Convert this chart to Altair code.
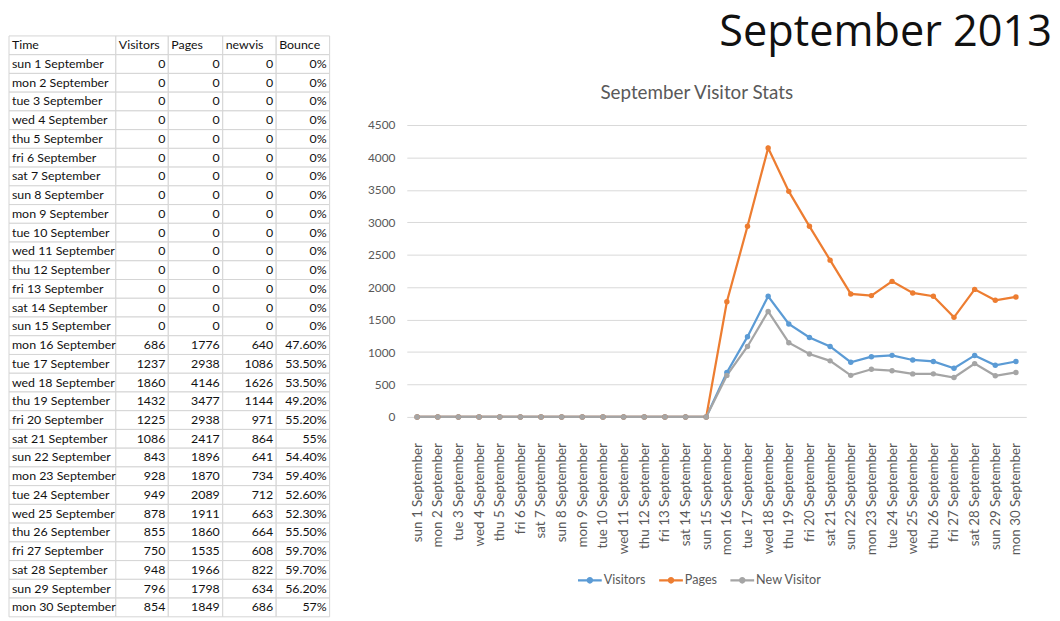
import altair as alt
import pandas as pd

# ---------------- data ----------------
DAYS = [
    "sun 1 September", "mon 2 September", "tue 3 September", "wed 4 September",
    "thu 5 September", "fri 6 September", "sat 7 September", "sun 8 September",
    "mon 9 September", "tue 10 September", "wed 11 September", "thu 12 September",
    "fri 13 September", "sat 14 September", "sun 15 September", "mon 16 September",
    "tue 17 September", "wed 18 September", "thu 19 September", "fri 20 September",
    "sat 21 September", "sun 22 September", "mon 23 September", "tue 24 September",
    "wed 25 September", "thu 26 September", "fri 27 September", "sat 28 September",
    "sun 29 September", "mon 30 September",
]
VISITORS = [0, 0, 0, 0, 0, 0, 0, 0, 0, 0, 0, 0, 0, 0, 0,
            686, 1237, 1860, 1432, 1225, 1086, 843, 928, 949, 878, 855, 750, 948, 796, 854]
PAGES = [0, 0, 0, 0, 0, 0, 0, 0, 0, 0, 0, 0, 0, 0, 0,
         1776, 2938, 4146, 3477, 2938, 2417, 1896, 1870, 2089, 1911, 1860, 1535, 1966, 1798, 1849]
NEWVIS = [0, 0, 0, 0, 0, 0, 0, 0, 0, 0, 0, 0, 0, 0, 0,
          640, 1086, 1626, 1144, 971, 864, 641, 734, 712, 663, 664, 608, 822, 634, 686]
BOUNCE = ["0%", "0%", "0%", "0%", "0%", "0%", "0%", "0%", "0%", "0%", "0%", "0%", "0%", "0%", "0%",
          "47.60%", "53.50%", "53.50%", "49.20%", "55.20%", "55%", "54.40%", "59.40%",
          "52.60%", "52.30%", "55.50%", "59.70%", "59.70%", "56.20%", "57%"]
HEADERS = ["Time", "Visitors", "Pages", "newvis", "Bounce"]
SERIES = ["Visitors", "Pages", "New Visitor"]
COLORS = ["#5B9BD5", "#ED7D31", "#A5A5A5"]
Y_TICKS = [0, 500, 1000, 1500, 2000, 2500, 3000, 3500, 4000, 4500]
Y_MAX = 4500
MAIN_TITLE = "September 2013"
CHART_TITLE = "September Visitor Stats"

# ---------------- layout constants ----------------
COL_EDGES = [0, 108, 161, 216, 270, 324]
TABLE_W, TABLE_H = 324, 587
PLOT_W = 626
PLOT_H = 295          # height of the 0..4500 value band
HEADROOM = 90         # space above the 4500 gridline inside the right panel
PANEL_H = PLOT_H + HEADROOM

FONT = "Lato"

# ---------------- table ----------------
rows = []
for c, h in enumerate(HEADERS):
    rows.append(dict(row=0, text=h, x0=COL_EDGES[c], x1=COL_EDGES[c + 1], al="left"))
for i, d in enumerate(DAYS):
    vals = [d, str(VISITORS[i]), str(PAGES[i]), str(NEWVIS[i]), BOUNCE[i]]
    for c, v in enumerate(vals):
        rows.append(dict(row=i + 1, text=v, x0=COL_EDGES[c], x1=COL_EDGES[c + 1],
                         al="left" if c == 0 else "right"))
table_df = pd.DataFrame(rows)

xs = alt.Scale(domain=[0, TABLE_W], nice=False, zero=False)
ys = alt.Scale(paddingInner=0, paddingOuter=0)
tbase = alt.Chart(table_df)
cells = tbase.mark_rect(fill="white", stroke="#d4d4d4", strokeWidth=1).encode(
    x=alt.X("x0:Q", scale=xs, axis=None),
    x2="x1:Q",
    y=alt.Y("row:O", scale=ys, axis=None),
)
tleft = tbase.transform_filter(alt.datum.al == "left").mark_text(
    align="left", baseline="middle", dx=3, font=FONT, fontSize=12.5, color="#111111"
).encode(x=alt.X("x0:Q", scale=xs, axis=None), y=alt.Y("row:O", scale=ys, axis=None), text="text:N")
tright = tbase.transform_filter(alt.datum.al == "right").mark_text(
    align="right", baseline="middle", dx=-3, font=FONT, fontSize=12.5, color="#111111"
).encode(x=alt.X("x1:Q", scale=xs, axis=None), y=alt.Y("row:O", scale=ys, axis=None), text="text:N")

table = alt.layer(cells, tleft, tright).properties(width=TABLE_W, height=TABLE_H)

# ---------------- line chart ----------------
long_df = pd.DataFrame({
    "day": DAYS * 3,
    "series": [s for s in SERIES for _ in DAYS],
    "value": VISITORS + PAGES + NEWVIS,
})
cscale = alt.Scale(domain=SERIES, range=COLORS)
xenc = alt.X("day:N", sort=DAYS, scale=alt.Scale(padding=0.5),
             axis=alt.Axis(title=None, labelAngle=270, labelFont=FONT, labelFontSize=13.5,
                           labelColor="#595959", domain=False, ticks=False, grid=False,
                           labelPadding=26))
yenc = alt.Y("value:Q",
             scale=alt.Scale(domain=[0, Y_MAX * PANEL_H / PLOT_H], nice=False),
             axis=alt.Axis(title=None, values=Y_TICKS, format="d", domain=False, ticks=False,
                           labelPadding=12, labelFont=FONT, labelFontSize=12,
                           labelColor="#595959", gridColor="#d9d9d9", gridWidth=1))

LEG_PATH = ("M-1,-0.09L1,-0.09L1,0.09L-1,0.09Z "
            "M-0.28,0A0.28,0.28 0 1,1 0.28,0A0.28,0.28 0 1,1 -0.28,0Z")
legend = alt.Legend(title=None, orient="none", legendX=575, legendY=538,
                    direction="horizontal", symbolType=LEG_PATH,
                    symbolSize=576, symbolStrokeWidth=0,
                    labelFont=FONT, labelFontSize=12.75,
                    labelColor="#595959", columnPadding=13, labelOffset=2)

lines = alt.Chart(long_df).mark_line(strokeWidth=2.25).encode(
    x=xenc, y=yenc, color=alt.Color("series:N", scale=cscale, sort=SERIES, legend=legend))
points = alt.Chart(long_df).mark_circle(size=30, opacity=1).encode(
    x=xenc, y=yenc, color=alt.Color("series:N", scale=cscale, sort=SERIES, legend=legend))

ttl_df = pd.DataFrame({"t": [CHART_TITLE]})
ttl = alt.Chart(ttl_df).mark_text(
    font=FONT, fontSize=19, color="#595959", align="center", baseline="middle"
).encode(text="t:N", x=alt.value(293), y=alt.value(58))

main_df = pd.DataFrame({"t": [MAIN_TITLE]})
main = alt.Chart(main_df).mark_text(
    font="Open Sans", fontSize=43.7, color="#111111", align="right", baseline="top"
).encode(text="t:N", x=alt.value(PLOT_W + 26), y=alt.value(-25))

right = alt.layer(lines, points, ttl, main).properties(width=PLOT_W, height=PANEL_H)

chart = alt.hconcat(table, right, spacing=37).properties(
    padding={"left": 0, "top": 0, "right": 0, "bottom": 0},
    background="white",
).configure_view(stroke=None)

chart.save("out.html", embed_options={"renderer": "svg", "actions": False})
